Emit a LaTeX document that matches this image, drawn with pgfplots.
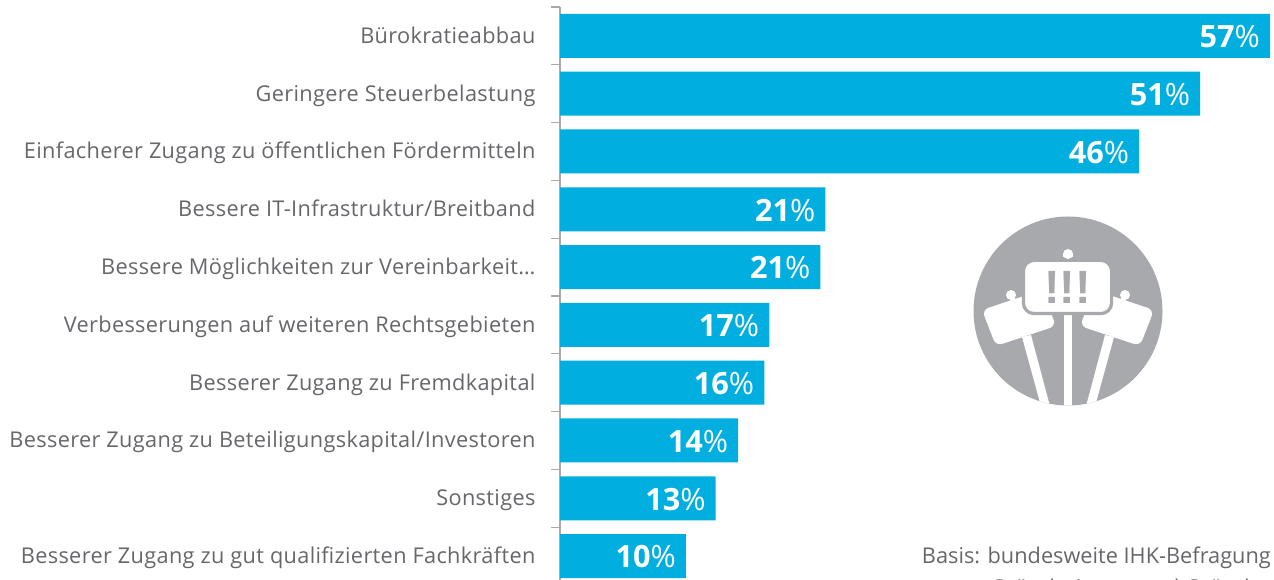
\documentclass[border=0pt]{standalone}
\usepackage{pgfplots}
\pgfplotsset{compat=1.18}
\usepackage{fontspec}
\setmainfont{Open Sans}
\newfontfamily\lblfont[LetterSpace=1.55]{Open Sans}
\newfontfamily\bangfont{Liberation Sans}
\newcommand{\pc}{{\mdseries\%}}
\definecolor{barblue}{HTML}{00AEE0}
\definecolor{txtgrey}{HTML}{66676A}
\definecolor{axgrey}{HTML}{A8A9AB}
\definecolor{icongrey}{HTML}{A7A9AC}
\begin{document}
\begin{tikzpicture}[x=0.75pt,y=0.75pt]
\useasboundingbox (0,0) rectangle (1274,580);
\clip (0,0) rectangle (1274,580);
\begin{axis}[
  at={(560*0.75pt,-5*0.75pt)},anchor=south west,
  scale only axis,
  width=710*0.75pt,height=578*0.75pt,
  xmin=0,xmax=57,
  ymin=-0.5,ymax=9.5,y dir=reverse,
  axis x line=none,
  axis y line*=left,
  y axis line style={draw=axgrey,line width=1.3pt,-},
  ytick={-0.5,0.5,...,9.5},
  yticklabels={},
  extra y ticks={0,1,2,3,4,5,6,7,8,9},
  extra y tick labels={B\"urokratieabbau,Geringere Steuerbelastung,Einfacherer Zugang zu \"offentlichen F\"ordermitteln,Bessere IT-Infrastruktur/Breitband,Bessere M\"oglichkeiten zur Vereinbarkeit\dots,Verbesserungen auf weiteren Rechtsgebieten,Besserer Zugang zu Fremdkapital,Besserer Zugang zu Beteiligungskapital/Investoren,Sonstiges,Besserer Zugang zu gut qualifizierten Fachkr\"aften},
  extra y tick style={major tick length=0pt,tick label style={font=\fontsize{16.3}{18}\lblfont,text=txtgrey,xshift=-14.9pt,anchor=east,text height=12pt,text depth=4pt,yshift=-1.6pt}},
  major tick length=6.75pt,
  tick style={draw=axgrey,line width=1pt},
  tick align=outside,
  clip=false,
  xbar,
  bar width=44*0.75pt,
  bar shift=0pt,
  point meta=explicit symbolic,
  nodes near coords,
  nodes near coords style={anchor=east,xshift=-4pt,yshift=-0.6pt,text=white,font=\fontsize{23}{24}\selectfont\bfseries},
]
\addplot[fill=barblue,draw=none] table[meta=lab,row sep=\\] {
x y lab\\
57.0 0 57\pc\\
51.4 1 51\pc\\
46.5 2 46\pc\\
21.3 3 21\pc\\
20.9 4 21\pc\\
16.8 5 17\pc\\
16.4 6 16\pc\\
14.3 7 14\pc\\
12.5 8 13\pc\\
10.1 9 10\pc\\
};
\end{axis}
% icon
\fill[icongrey] (1068,269) circle (94.5);
\begin{scope}
\clip (1068,269) circle (94.5);
\foreach \m in {0,1}{
\begin{scope}[shift={(\m*2136,0)},xscale=1-2*\m]
  \fill[white,rounded corners=5] (982,270) -- (1042,290) -- (1056,254) -- (996,234) -- cycle;
  \fill[white] (1011,285) circle (5);
  \draw[white,line width=3.8pt] (1011,285) -- (1015,275);
  \fill[white] (1022,243) -- (1031,245) -- (1051,170) -- (1042,170) -- cycle;
\end{scope}}
\fill[white] (1064,170) rectangle (1072,290);
\end{scope}
\fill[white,draw=icongrey,line width=2.4pt,rounded corners=8] (1023.4,319.6) rectangle (1111.6,266.4);
\fill[white] (1063,323) rectangle (1073,326);
\fill[white] (1068,326) circle (5);
\node[text=icongrey,inner sep=0pt,anchor=base,font=\fontsize{35}{35}\bangfont\bfseries] at (1067.5,276) {!!!};
\node[anchor=east,inner sep=0pt,text=txtgrey,font=\fontsize{16.3}{18}\selectfont] at (1271,22.5) {Basis: bundesweite IHK-Befragung};
\node[anchor=east,inner sep=0pt,text=txtgrey,font=\fontsize{16.3}{18}\selectfont] at (1271,-7) {Gr\"underinnen und Gr\"under};
\end{tikzpicture}
\end{document}
